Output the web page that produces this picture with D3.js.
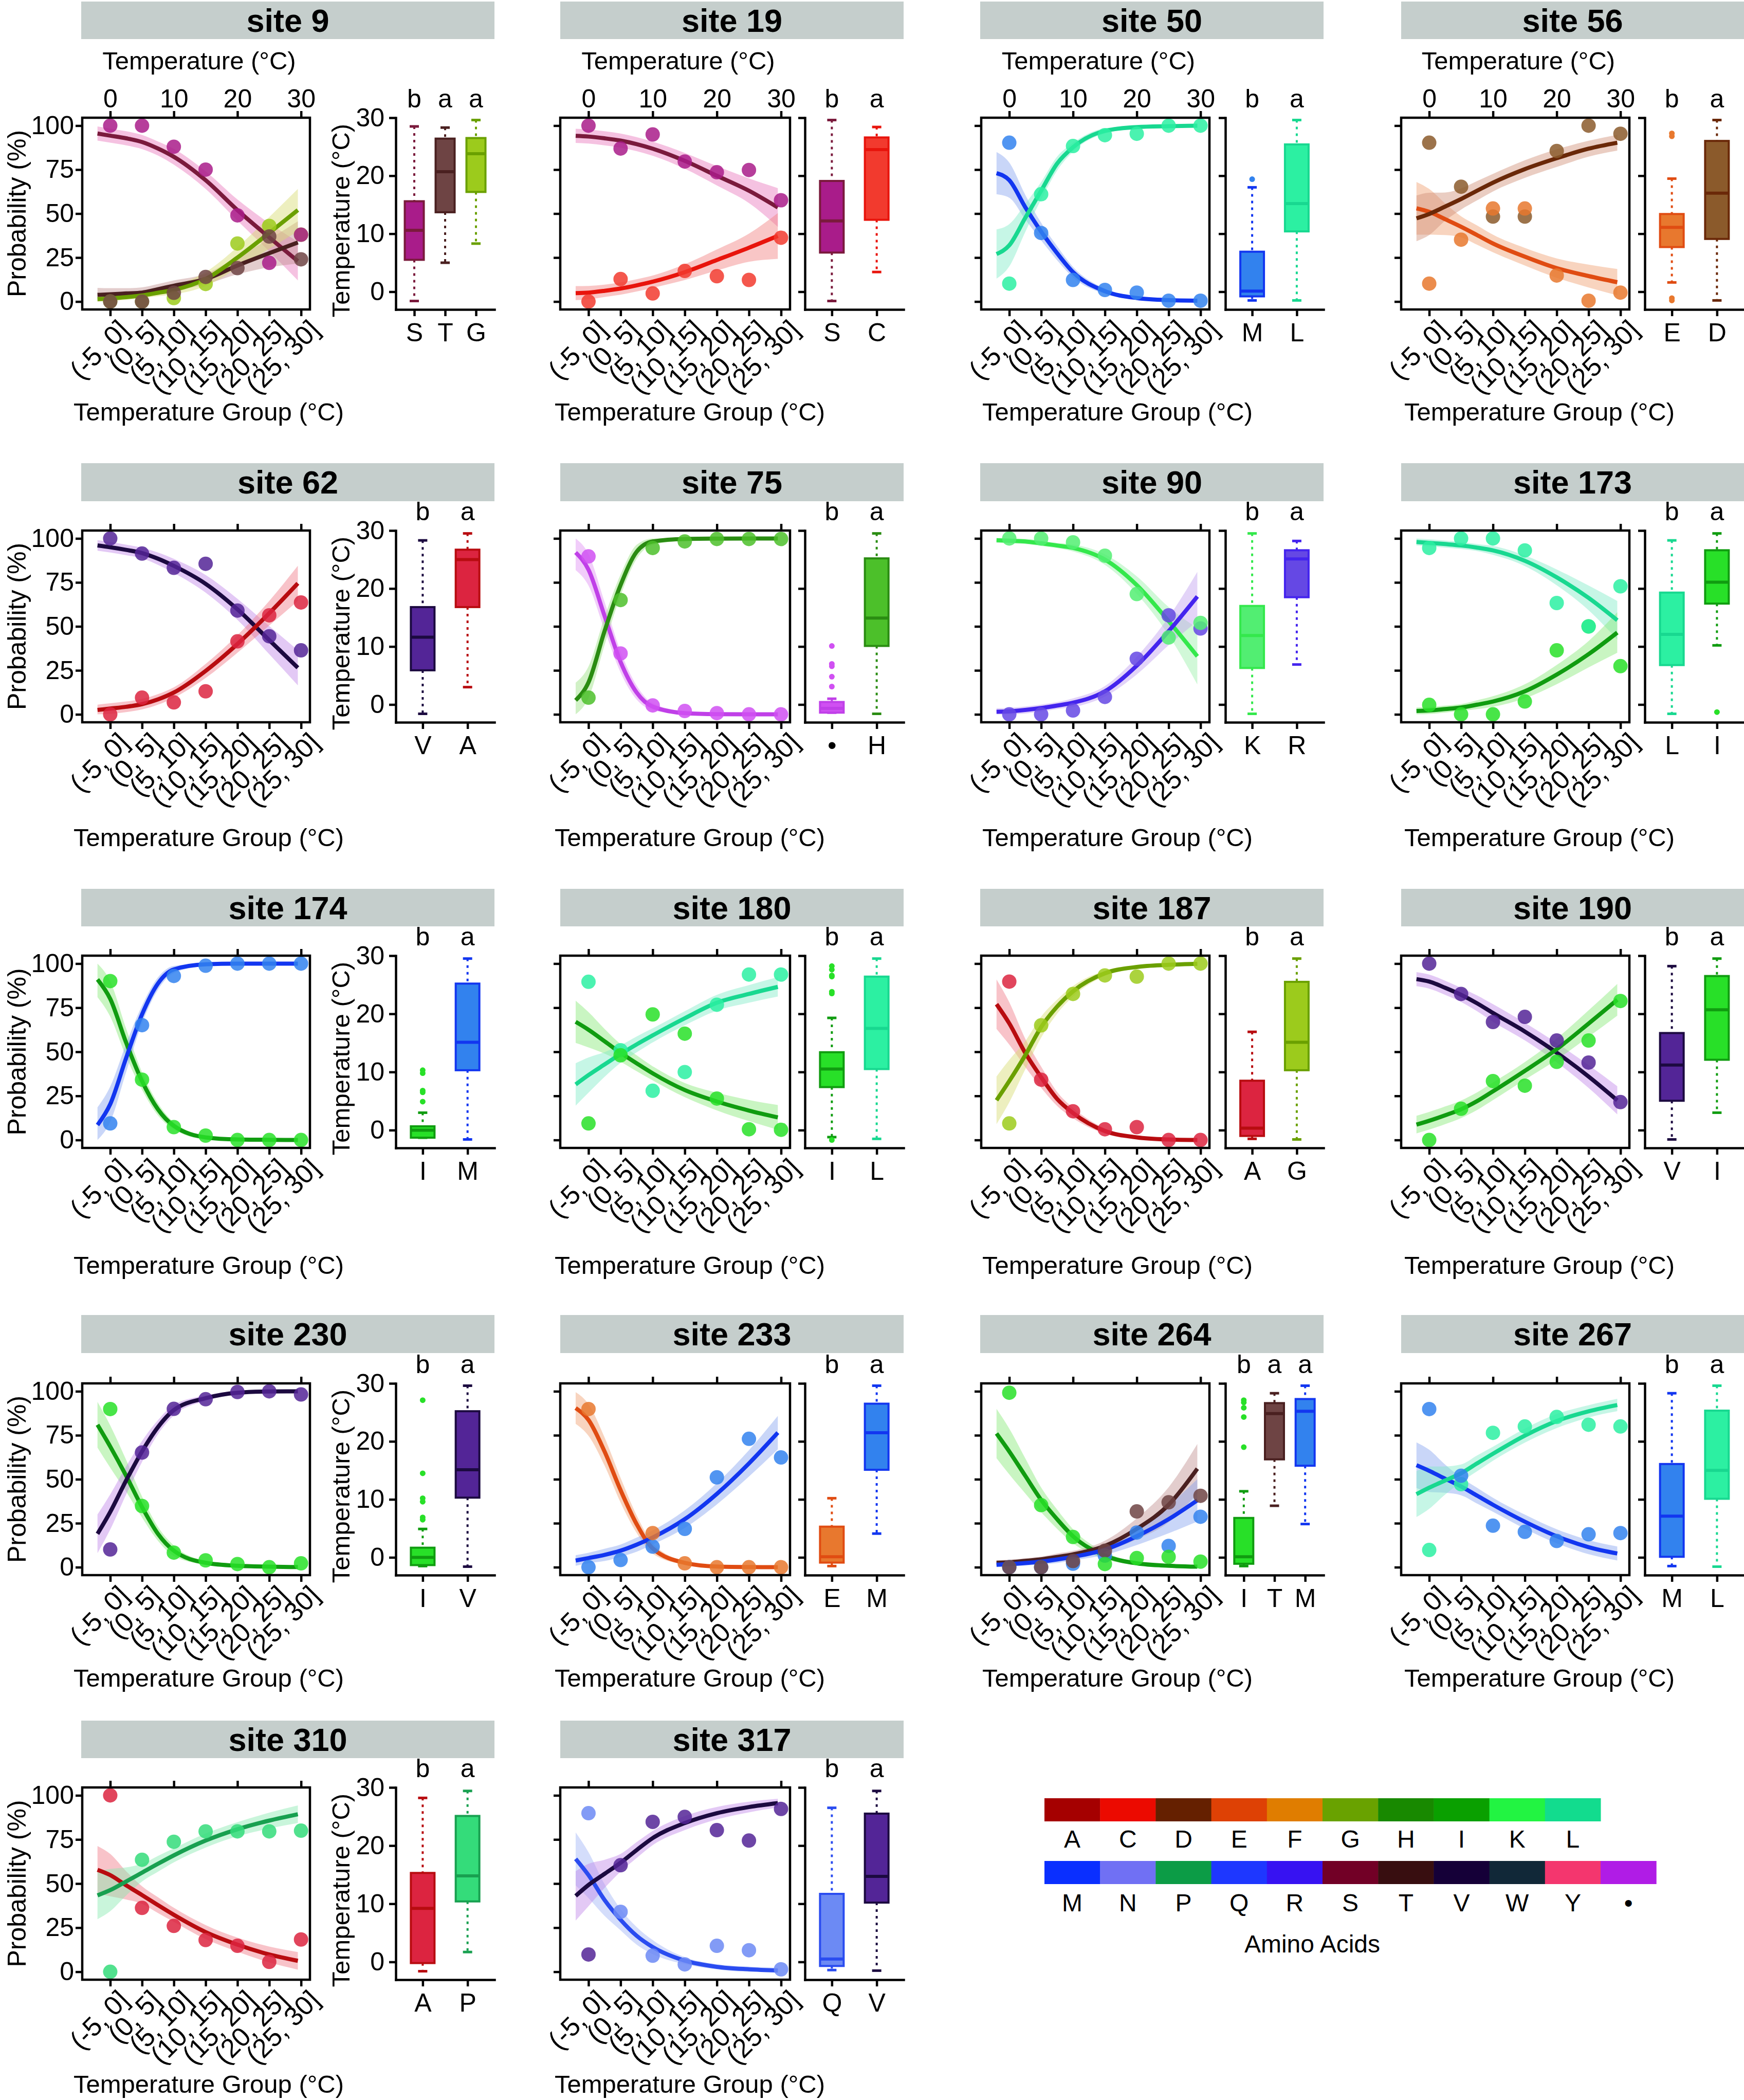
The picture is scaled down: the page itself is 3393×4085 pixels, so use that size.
<!DOCTYPE html>
<html><head><meta charset="utf-8">
<script src="https://cdn.jsdelivr.net/npm/d3@7"></script>
<style>body{margin:0;background:#fff}</style>
</head><body>
<svg id="c" width="3393" height="4085"></svg>
<script>
// ---------------- DATA ----------------
const groupLabels = ["(-5, 0]","(0, 5]","(5, 10]","(10, 15]","(15, 20]","(20, 25]","(25, 30]"];
const groupTemps = [0,5,10,15,20,25,30];
const curveTemps = [-2,0,2.5,5,7.5,10,15,20,25,29.5];
const probTicks = [0,25,50,75,100];
const tempTicks = [0,10,20,30];
const siteNames = ["site 9","site 19","site 50","site 56","site 62","site 75","site 90","site 173","site 174","site 180","site 187","site 190","site 230","site 233","site 264","site 267","site 310","site 317"];

const s9_aa = ["S","T","G"];
const s9_points = [[100,100,88,75,49,22,38],[0,0,5,14,19,37,24],[0,0,2,10,33,43,38]];
const s9_fit = [[95.5,94.3,92.8,90.7,87,82.3,69,52,36.5,23],[3.8,4.1,4.6,5.1,7,9,12.8,20.5,27.5,33.6],[1.4,1.8,2.5,3.5,5,6.6,12.8,25,39,52]];
const s9_band = [[4,4,4,4,4,4.5,5,6,8,11],[4,3.5,3,3,3,3,3,5,8,12],[1.5,1.5,1.5,1.5,2,2.5,4,6,9,12]];
const s9_box = [[-1.6,5.5,10.6,15.6,28.5],[5.0,13.7,20.7,26.4,28.3],[8.3,17.2,23.8,26.5,29.6]];
const s9_outliers = [[],[],[]];
const s9_letters = ["b","a","a"];

const s19_aa = ["S","C"];
const s19_points = [[100,87,95,79.6,73.5,74.8,57.6],[0,12.8,4.6,17.4,14.4,12.3,36.3]];
const s19_fit = [[94.2,93.8,92.8,91.5,89.5,86.9,80,71.5,63,53.5],[4.8,5.1,6.1,7.4,9.2,11.3,16.7,23.6,30.6,37.3]];
const s19_band = [[4,4,4,4,4,4,4.5,5.5,7,11],[4,3.8,3.5,3.5,3.5,3.5,4.5,6,8,13]];
const s19_box = [[-1.6,6.75,12.2,19.1,29.6],[3.4,12.4,24.5,26.6,28.4]];
const s19_outliers = [[],[]];
const s19_letters = ["b","a"];

const s50_aa = ["M","L"];
const s50_points = [[90.3,39,12.3,6.6,5.1,0.5,0.5],[10.2,61,88.4,94.6,95.4,100,100]];
const s50_fit = [[73,69,53.7,39.8,27.5,16.7,5.9,2,0.8,0.5],[27,32,47.5,63,78.4,87.7,97,99.2,99.7,100]];
const s50_band = [[12,10,7,5,4,3,1.5,1,1,1],[14,12,8,5,4,2.5,1.5,1,1,1]];
const s50_box = [[-1.5,-0.8,0.1,6.9,18.0],[-1.5,10.4,15.2,25.4,29.6]];
const s50_outliers = [[19.4],[]];
const s50_letters = ["b","a"];

const s56_aa = ["E","D"];
const s56_points = [[10.2,35.2,52.9,52.9,14.8,0.5,5.1],[90.3,65.3,48.3,48.3,85.6,100,95.4]];
const s56_fit = [[53,51,46.8,42.5,37.8,33,25.5,19,14.5,11],[47.3,49.8,54,58.3,63,67.6,75.3,81.5,86.9,90.3]];
const s56_band = [[15,13,9,6,5.5,5,5,5.5,6.5,7.5],[13,12,8,6,5.5,5,5,5,4.5,4.5]];
const s56_box = [[1.6,7.7,11.1,13.4,19.5],[-1.5,9.1,17.0,26.0,29.6]];
const s56_outliers = [[27.3,26.8,-1.1,-1.5],[]];
const s56_letters = ["b","a"];

const s62_aa = ["V","A"];
const s62_points = [[100,91.4,83.3,85.6,59,44.4,36.4],[0,9.5,6.8,13.1,41.5,56.3,63.6]];
const s62_fit = [[96,95,93.5,91.7,88.5,84.4,74.2,59.7,42.2,26.5],[2.5,3.3,4.3,5.8,8.5,12.4,24.7,40,57.5,74.5]];
const s62_band = [[3,3,3,3,3.5,4,5,6,8,10],[3,3,3,3,3,3,4,5,7,10]];
const s62_box = [[-1.6,5.9,11.6,16.8,28.3],[3.0,16.8,25.0,26.7,29.5]];
const s62_outliers = [[],[]];
const s62_letters = ["b","a"];

const s75_aa = ["•","H"];
const s75_points = [[89.8,34.6,5.1,1.9,0.7,0,0],[9.5,65,94.6,98.3,99.7,99.7,99.7]];
const s75_fit = [[92,82.2,56,29.8,12.4,4.4,0.7,0.1,0,0],[8,18.2,47.3,73.5,92.4,98.3,99.7,99.9,100,100]];
const s75_band = [[10,9,8,6,4,2,1,0.5,0.5,0.5],[10,9,8,6,4,2,1,0.5,0.5,0.5]];
const s75_box = [[-1.4,-1.4,-0.66,0.44,1.0],[-1.6,10.1,14.9,25.2,29.5]];
const s75_outliers = [[10.1,7.0,6.6,4.8,3.1],[]];
const s75_letters = ["b","a"];

const s90_aa = ["K","R"];
const s90_points = [[100,100,97.8,90.2,68.4,43.7,52],[0,0,2.2,9.9,31.6,56.3,48.8]];
const s90_fit = [[99,98.7,98.3,97.2,96,94.6,88,73.5,53,33],[1.5,1.7,2.5,3.6,5,6.6,13.1,27.7,47.3,67]];
const s90_band = [[1.5,1.5,1.5,1.5,1.5,2,3,5,8,16],[2,2,2,2,2,2.5,3,5,8,14]];
const s90_box = [[-1.6,6.3,11.9,17.0,29.5],[6.9,18.5,25.1,26.6,28.2]];
const s90_outliers = [[],[]];
const s90_letters = ["b","a"];

const s173_aa = ["L","I"];
const s173_points = [[94.6,100,100,93.2,63.3,50,72.8],[5.4,0,0,7.3,36.4,50,27.4]];
const s173_fit = [[98,97.5,96.8,96,94.8,93.2,87.3,77.9,66.2,53.5],[1.9,2.2,3,3.9,5.5,7.3,13.1,22.6,34.2,46.5]];
const s173_band = [[2,2,2,2,2,2.5,3,4.5,7,11],[2,2,2,2,2.5,3,4,5.5,7.5,11.5]];
const s173_box = [[-1.6,6.8,12.1,19.3,28.3],[10.2,17.4,21.1,26.6,29.5]];
const s173_outliers = [[],[-1.3]];
const s173_letters = ["b","a"];

const s174_aa = ["I","M"];
const s174_points = [[90.1,34.2,7.3,2.5,0,0,0],[9.4,65.1,93,98.8,100,100,100]];
const s174_fit = [[91,80,55.2,33.4,17.4,8,1.5,0.3,0.1,0],[8.5,20.3,46.5,71.2,88.7,96.7,99.6,100,100,100]];
const s174_band = [[10,10,8,5,3.5,2,1,0.5,0.5,0.5],[10,10,8,5,3.5,2,1,0.5,0.5,0.5]];
const s174_box = [[-1.3,-1.3,0,0.66,3.0],[-1.6,10.3,15.1,25.2,29.5]];
const s174_outliers = [[10.3,9.8,6.8,6.5,4.9],[]];
const s174_letters = ["b","a"];

const s180_aa = ["I","L"];
const s180_points = [[9.4,48,71.2,60.3,23.5,6.1,5.8],[89.7,50.9,27.9,38.5,76.7,93.8,93.8]];
const s180_fit = [[67,62.5,56,49.4,43.5,37.8,28.3,21.8,16.7,12.8],[31.5,36.8,42.8,48.7,54.2,59.3,69,77.8,82.8,86.8]];
const s180_band = [[12,10,7,5,4.5,4,4,5,6,7],[12,10,7,5,4.5,4,4,4.5,5,5.5]];
const s180_box = [[-1.2,7.4,10.5,13.4,19.3],[-1.5,10.5,17.5,26.4,29.5]];
const s180_outliers = [[28.2,27.6,26.6,26.4,23.8,23.5,-1.7],[]];
const s180_letters = ["b","a"];

const s187_aa = ["A","G"];
const s187_points = [[89.8,34.2,16.3,6.1,7.3,0,0],[9.4,65,82.8,93.3,92.6,100,100]];
const s187_fit = [[77,66.1,49.4,35.6,23.3,15.3,5.1,1.5,0.3,0],[22.5,33.4,48,64,75.6,84.3,94.5,98.1,99.3,99.9]];
const s187_band = [[14,12,8,6,4,3,1.5,1,0.5,0.5],[13.5,12,8,6,4,3,1.5,1,0.5,0.5]];
const s187_box = [[-1.5,-1.0,0.35,8.5,16.9],[-1.6,10.3,15.1,25.5,29.5]];
const s187_outliers = [[],[]];
const s187_letters = ["b","a"];

const s190_aa = ["V","I"];
const s190_points = [[100,82.8,66.9,69.8,56.4,43.9,21.5],[0,17.7,33.4,30.8,44.3,56.4,78.8]];
const s190_fit = [[91.2,89.8,86.3,82.3,77.5,72,61.5,49.5,36,22.5],[8.7,10.9,14,17.4,22,27.6,39.2,51.5,66,79.5]];
const s190_band = [[4,4,4,4,4.5,5,5,5.5,6.5,8],[5,5,5,5,5,5,5,6,7.5,9]];
const s190_box = [[-1.6,5.05,11.2,16.7,28.2],[3.0,12.1,20.7,26.5,29.5]];
const s190_outliers = [[],[]];
const s190_letters = ["b","a"];

const s230_aa = ["I","V"];
const s230_points = [[89.9,34.8,8.3,3.9,1.8,0,2.2],[10.1,65.2,90,95.5,99.6,100,98.2]];
const s230_fit = [[81,68.6,52,34.2,19,9.4,2.5,0.8,0.3,0.1],[19,31.4,49.3,65.8,79.6,89.3,96.1,99.2,99.9,100]];
const s230_band = [[13,12,9,6,4,3,1,0.5,0.5,0.5],[11,10,8,6,4,3,1.5,1,0.5,0.5]];
const s230_box = [[-1.5,-1.33,0,1.67,4.9],[-1.6,10.3,15.1,25.2,29.6]];
const s230_outliers = [[27.1,14.5,10.2,9.6,6.9,6.5],[]];
const s230_letters = ["b","a"];

const s233_aa = ["E","M"];
const s233_points = [[89.9,null,19.4,2.2,0,0,0],[0,4.1,11.7,21.8,51.1,73,62.4]];
const s233_fit = [[90.5,83.7,65.8,43.8,24.5,10.7,2.5,0.4,0.1,0],[3.8,5.2,7,9.4,12.8,16.9,27.3,41.7,59,76.5]];
const s233_band = [[9,9,8,7,5,3,1,0.5,0.5,0.5],[3,3,3.5,3.5,4,4,5,6,7.5,9.5]];
const s233_box = [[-1.5,-0.9,0.1,5.3,10.2],[4.1,15.1,21.5,26.5,29.6]];
const s233_outliers = [[],[]];
const s233_letters = ["b","a"];

const s264_aa = ["I","T","M"];
const s264_points = [[99.2,35.3,17.2,1.8,5.2,5.9,3.2],[0,0,3.5,9.4,31.7,36.9,40.6],[0,0,2,6.6,19.7,12.1,28.7]];
const s264_fit = [[76,65.8,52,38.3,27.3,17.6,6.6,2.2,0.8,0.3],[2.5,2.8,3.6,4.5,5.8,7.3,12.1,21.8,35.5,56],[1.4,1.8,2.4,3.2,4.4,5.9,10,17.6,27.3,38]];
const s264_band = [[14,13,10,7,5.5,4,2,1,1,1],[1.5,1.5,1.5,1.5,2,2,3,6,10,14],[1.5,1.5,1.5,1.5,2,2,3,5,8,12]];
const s264_box = [[-1.5,-1.1,0.1,6.8,11.4],[8.9,16.9,24.8,26.6,28.3],[5.75,15.8,25.2,27.3,29.6]];
const s264_outliers = [[27.1,26.7,25.8,24.2,19.0],[],[]];
const s264_letters = ["b","a","a"];

const s267_aa = ["M","L"];
const s267_points = [[89.9,52,23.6,20.1,14.9,18.7,19.4],[9.8,47.2,76.4,80,85.4,81,80]];
const s267_fit = [[58,54.8,50.3,45.9,40.7,35.5,25.9,17.6,11.4,7.8],[41.5,45.2,49.3,53.4,59,64.5,74.8,83.1,88.6,92.2]];
const s267_band = [[13,12,8,5,4.5,4,4,4,4,4],[13,12,8,5,4.5,4,4,4,3.5,3.5]];
const s267_box = [[-1.5,0.1,7.1,16.1,28.3],[-1.6,10.1,15.0,25.3,29.6]];
const s267_outliers = [[],[]];
const s267_letters = ["b","a"];

const s310_aa = ["A","P"];
const s310_points = [[100,36.2,26,18,14.7,5.6,18.3],[0,63.5,73.7,79.6,79.6,79.6,80]];
const s310_fit = [[57.8,54.8,49,43.5,37.8,32.3,22.5,15.4,9.8,6.2],[43.3,46.3,51.2,56.2,61.2,66,74.4,80.8,85.7,89.3]];
const s310_band = [[13.5,12,8,5,4.5,4,4,4,4.5,5],[13.5,12,8,5,4.5,4,4,4,4.5,5]];
const s310_box = [[-1.6,-0.2,9.2,15.3,28.2],[1.7,10.4,14.8,25.1,29.4]];
const s310_outliers = [[],[]];
const s310_letters = ["b","a"];

const s317_aa = ["Q","V"];
const s317_points = [[89.9,34,9.1,4.2,14.7,12.2,1.4],[9.8,60.4,85,87.8,80.3,74.4,92.3]];
const s317_fit = [[64,54.8,40.7,29.5,20.4,14,6.3,2.8,1.4,0.7],[43,49.2,55.5,61.8,69,75.8,84.3,89.9,93.4,95.6]];
const s317_band = [[15,13,9,6,5,4,2,1.5,1.5,1.5],[14,12,8,5,4.5,4,4,3.5,3,2.5]];
const s317_box = [[-1.4,-0.7,0.5,11.7,26.5],[-1.5,10.2,14.7,25.5,29.4]];
const s317_outliers = [[],[]];
const s317_letters = ["b","a"];

const legendRow1 = ["A","C","D","E","F","G","H","I","K","L"];
const legendRow2 = ["M","N","P","Q","R","S","T","V","W","Y","•"];

// ---------------- STYLE / LAYOUT ----------------
const FONT = "'Liberation Sans', Arial, Helvetica, sans-serif";
const LEGEND_COLOR = {A:"#a50000",C:"#ec0a00",D:"#652000",E:"#de4105",F:"#e07d00",G:"#69a200",H:"#188900",I:"#0aa000",K:"#22f442",L:"#12dc8e",
  M:"#0a2fff",N:"#7070f4",P:"#0c9c46",Q:"#1e37ff",R:"#3712f2",S:"#720026",T:"#380e10",V:"#150038",W:"#112838",Y:"#f4366e","•":"#b01ce6"};
const LINE = {S:"#7a1a3c",T:"#4a2020",G:"#6aa000",C:"#e8140c",M:"#1236f0",L:"#18d890",E:"#e04c12",D:"#6a2808",V:"#1c0a40",A:"#b80c10",H:"#2a8c12","•":"#c040e8",K:"#34e84c",R:"#4424ee",I:"#109c10",P:"#18a050",Q:"#2a4cf0"};
const PT = {S:"#a91c8a",T:"#6e4444",G:"#9ccb1c",C:"#f23a2e",M:"#3282ee",L:"#2cf0a2",E:"#e8782e",D:"#8b5a2b",V:"#532597",A:"#dc2440",H:"#4cc02a","•":"#d050f2",K:"#52ee72",R:"#6548e4",I:"#28e028",P:"#34dc7a",Q:"#6c8af4"};
const BAND = {S:"#e878bc",T:"#c09090",G:"#d6dc70",C:"#f28080",M:"#88a4f0",L:"#80ecc8",E:"#f0a070",D:"#d09078",V:"#c088e8",A:"#f07a88",H:"#98e080","•":"#e090f4",K:"#98f0a8",R:"#c0a0f0",I:"#88e878",P:"#88e8b0",Q:"#a0b4f6"};

const COLS = [
  {plotL:160, plotR:603, boxL:770, boxR:962, stripL:158, stripR:962, xTitle:406},
  {plotL:1090, plotR:1537, boxL:1566, boxR:1758, stripL:1090, stripR:1758, xTitle:1342},
  {plotL:1909, plotR:2353, boxL:2384, boxR:2575, stripL:1907, stripR:2575, xTitle:2174},
  {plotL:2726, plotR:3170, boxL:3200, boxR:3393, stripL:2726, stripR:3393, xTitle:2995}];
const ROWS = [
  {stripT:3, stripB:76, plotT:229, plotB:602, xTitle:818},
  {stripT:901, stripB:975, plotT:1032, plotB:1405, xTitle:1646},
  {stripT:1729, stripB:1802, plotT:1859, plotB:2233, xTitle:2478},
  {stripT:2558, stripB:2632, plotT:2691, plotB:3064, xTitle:3281},
  {stripT:3347, stripB:3420, plotT:3477, plotB:3851, xTitle:4071}];
const X_DOMAIN = [-4.4, 31.4];
const Y_DOMAIN = [-4.5, 104.5];
const BOX_DOMAIN = [-3.06, 30];
const AX = 4.5;

const panels = [
  {aa:s9_aa,pts:s9_points,fit:s9_fit,band:s9_band,box:s9_box,out:s9_outliers,sig:s9_letters},
  {aa:s19_aa,pts:s19_points,fit:s19_fit,band:s19_band,box:s19_box,out:s19_outliers,sig:s19_letters},
  {aa:s50_aa,pts:s50_points,fit:s50_fit,band:s50_band,box:s50_box,out:s50_outliers,sig:s50_letters},
  {aa:s56_aa,pts:s56_points,fit:s56_fit,band:s56_band,box:s56_box,out:s56_outliers,sig:s56_letters},
  {aa:s62_aa,pts:s62_points,fit:s62_fit,band:s62_band,box:s62_box,out:s62_outliers,sig:s62_letters},
  {aa:s75_aa,pts:s75_points,fit:s75_fit,band:s75_band,box:s75_box,out:s75_outliers,sig:s75_letters},
  {aa:s90_aa,pts:s90_points,fit:s90_fit,band:s90_band,box:s90_box,out:s90_outliers,sig:s90_letters},
  {aa:s173_aa,pts:s173_points,fit:s173_fit,band:s173_band,box:s173_box,out:s173_outliers,sig:s173_letters},
  {aa:s174_aa,pts:s174_points,fit:s174_fit,band:s174_band,box:s174_box,out:s174_outliers,sig:s174_letters},
  {aa:s180_aa,pts:s180_points,fit:s180_fit,band:s180_band,box:s180_box,out:s180_outliers,sig:s180_letters},
  {aa:s187_aa,pts:s187_points,fit:s187_fit,band:s187_band,box:s187_box,out:s187_outliers,sig:s187_letters},
  {aa:s190_aa,pts:s190_points,fit:s190_fit,band:s190_band,box:s190_box,out:s190_outliers,sig:s190_letters},
  {aa:s230_aa,pts:s230_points,fit:s230_fit,band:s230_band,box:s230_box,out:s230_outliers,sig:s230_letters},
  {aa:s233_aa,pts:s233_points,fit:s233_fit,band:s233_band,box:s233_box,out:s233_outliers,sig:s233_letters},
  {aa:s264_aa,pts:s264_points,fit:s264_fit,band:s264_band,box:s264_box,out:s264_outliers,sig:s264_letters},
  {aa:s267_aa,pts:s267_points,fit:s267_fit,band:s267_band,box:s267_box,out:s267_outliers,sig:s267_letters},
  {aa:s310_aa,pts:s310_points,fit:s310_fit,band:s310_band,box:s310_box,out:s310_outliers,sig:s310_letters},
  {aa:s317_aa,pts:s317_points,fit:s317_fit,band:s317_band,box:s317_box,out:s317_outliers,sig:s317_letters}];
panels.forEach((p,k)=>{ p.site = siteNames[k]; });

// ---------------- DRAW ----------------
const svg = d3.select("#c");
svg.append("rect").attr("width",3393).attr("height",4085).attr("fill","#fff");

function styleAxis(sel, fs){
  sel.attr("font-size", null).attr("font-family", null);
  sel.selectAll("path.domain").attr("stroke","#000").attr("stroke-width",AX).attr("stroke-linecap","square");
  sel.selectAll(".tick line").attr("stroke","#000").attr("stroke-width",AX);
  sel.selectAll(".tick text").attr("fill","#000").style("font-family",FONT).style("font-size",fs+"px");
}

function drawPanel(p, ci, ri){
  const C = COLS[ci], R = ROWS[ri];
  const g = svg.append("g");
  const x = d3.scaleLinear().domain(X_DOMAIN).range([C.plotL, C.plotR]);
  const y = d3.scaleLinear().domain(Y_DOMAIN).range([R.plotB, R.plotT]);
  const idx = d3.range(curveTemps.length);
  const n = p.aa.length;

  // strip
  g.append("rect").attr("x",C.stripL).attr("y",R.stripT).attr("width",C.stripR-C.stripL).attr("height",R.stripB-R.stripT).attr("fill","#c5cecc");
  g.append("text").attr("x",(C.stripL+C.stripR)/2).attr("y",(R.stripT+R.stripB)/2+22)
    .attr("text-anchor","middle").style("font-family",FONT).style("font-size","63px").style("font-weight","bold").text(p.site);

  // confidence bands
  p.aa.forEach((a,i)=>{
    const area = d3.area()
      .x(j=>x(curveTemps[j]))
      .y0(j=>y(Math.max(0, p.fit[i][j]-p.band[i][j])))
      .y1(j=>y(Math.min(100, p.fit[i][j]+p.band[i][j])))
      .curve(d3.curveMonotoneX);
    g.append("path").attr("d",area(idx)).attr("fill",BAND[a]).attr("fill-opacity",0.45);
  });
  // fitted lines
  p.aa.forEach((a,i)=>{
    const line = d3.line().x(j=>x(curveTemps[j])).y(j=>y(p.fit[i][j])).curve(d3.curveMonotoneX);
    g.append("path").attr("d",line(idx)).attr("fill","none").attr("stroke",LINE[a]).attr("stroke-width",8);
  });
  // points
  d3.range(n).reverse().forEach(i=>{
    const a = p.aa[i];
    const data = p.pts[i].map((v,j)=>({t:groupTemps[j], v})).filter(d=>d.v!==null);
    g.selectAll(null).data(data).enter().append("circle")
      .attr("cx",d=>x(d.t)).attr("cy",d=>y(d.v)).attr("r",14)
      .attr("fill",PT[a]).attr("fill-opacity",0.85);
  });
  // frame
  g.append("rect").attr("x",C.plotL).attr("y",R.plotT).attr("width",C.plotR-C.plotL).attr("height",R.plotB-R.plotT)
    .attr("fill","none").attr("stroke","#000").attr("stroke-width",AX);

  // left axis
  const gl = g.append("g").attr("transform",`translate(${C.plotL},0)`)
    .call(d3.axisLeft(y).tickValues(probTicks).tickSize(13).tickPadding(3).tickSizeOuter(0).tickFormat(d=> ci===0 ? d : ""));
  gl.select(".domain").remove(); styleAxis(gl, 50);
  // top axis
  const gt = g.append("g").attr("transform",`translate(0,${R.plotT})`)
    .call(d3.axisTop(x).tickValues(tempTicks).tickSize(13).tickPadding(7).tickSizeOuter(0).tickFormat(d=> ri===0 ? d : ""));
  gt.select(".domain").remove(); styleAxis(gt, 50);
  // bottom axis (groups)
  const gb = g.append("g").attr("transform",`translate(0,${R.plotB})`)
    .call(d3.axisBottom(x).tickValues(groupTemps).tickSize(13).tickSizeOuter(0).tickFormat((d,i)=>groupLabels[i]));
  gb.select(".domain").remove(); styleAxis(gb, 52);
  gb.selectAll(".tick text").attr("x",12).attr("y",16).attr("dy",null)
    .attr("text-anchor","end").attr("dominant-baseline","hanging").attr("transform","rotate(-45,12,16)");

  // titles
  if (ri===0){
    g.append("text").attr("x",(C.plotL+C.plotR)/2+6).attr("y",135).attr("text-anchor","middle")
      .style("font-family",FONT).style("font-size","49px").text("Temperature (°C)");
  }
  g.append("text").attr("x",C.xTitle).attr("y",R.xTitle).attr("text-anchor","middle")
    .style("font-family",FONT).style("font-size","49px").text("Temperature Group (°C)");
  if (ci===0){
    const cy = (R.plotT+R.plotB)/2;
    g.append("text").attr("transform",`translate(50,${cy}) rotate(-90)`).attr("text-anchor","middle")
      .style("font-family",FONT).style("font-size","50px").text("Probability (%)");
    const cy2 = R.plotT+200;
    g.append("text").attr("transform",`translate(680,${cy2}) rotate(-90)`).attr("text-anchor","middle")
      .style("font-family",FONT).style("font-size","49px").text("Temperature (°C)");
  }

  // box panel
  const bx = d3.scalePoint().domain(p.aa).range([C.boxL, C.boxR]).padding(0.6);
  const by = d3.scaleLinear().domain(BOX_DOMAIN).range([R.plotB, R.plotT]);
  const bw = n===3 ? 37 : 46;
  p.aa.forEach((a,i)=>{
    const [lo,q1,med,q3,hi] = p.box[i];
    const cx = bx(a);
    const lc = LINE[a];
    g.append("line").attr("x1",cx).attr("x2",cx).attr("y1",by(hi)).attr("y2",by(q3))
      .attr("stroke",lc).attr("stroke-width",4).attr("stroke-dasharray","5 8");
    g.append("line").attr("x1",cx).attr("x2",cx).attr("y1",by(q1)).attr("y2",by(lo))
      .attr("stroke",lc).attr("stroke-width",4).attr("stroke-dasharray","5 8");
    [lo,hi].forEach(v=>g.append("line").attr("x1",cx-9).attr("x2",cx+9).attr("y1",by(v)).attr("y2",by(v))
      .attr("stroke",lc).attr("stroke-width",5));
    g.append("rect").attr("x",cx-bw/2).attr("y",by(q3)).attr("width",bw).attr("height",Math.max(1,by(q1)-by(q3)))
      .attr("fill",PT[a]).attr("stroke",lc).attr("stroke-width",4);
    g.append("line").attr("x1",cx-bw/2).attr("x2",cx+bw/2).attr("y1",by(med)).attr("y2",by(med))
      .attr("stroke",lc).attr("stroke-width",6);
    g.selectAll(null).data(p.out[i]).enter().append("circle")
      .attr("cx",cx).attr("cy",d=>by(d)).attr("r",5.5).attr("fill",PT[a]);
    g.append("text").attr("x",cx).attr("y",R.plotT-20).attr("text-anchor","middle")
      .style("font-family",FONT).style("font-size","50px").text(p.sig[i]);
  });
  const gby = g.append("g").attr("transform",`translate(${C.boxL},0)`)
    .call(d3.axisLeft(by).tickValues(tempTicks).tickSize(13).tickPadding(9).tickSizeOuter(0).tickFormat(d=> ci===0 ? d : ""));
  styleAxis(gby, 50);
  const gbx = g.append("g").attr("transform",`translate(0,${R.plotB})`)
    .call(d3.axisBottom(bx).tickSize(13).tickPadding(13).tickSizeOuter(0));
  styleAxis(gbx, 50);
}

panels.forEach((p,k)=>drawPanel(p, k%4, Math.floor(k/4)));

// legend
const lg = svg.append("g");
const sw = 108.2, lx0 = 2032;
const lx1 = d3.scaleBand().domain(legendRow1).range([lx0, lx0+sw*legendRow1.length]);
const lx2 = d3.scaleBand().domain(legendRow2).range([lx0, lx0+sw*legendRow2.length]);
[[legendRow1, lx1, 3498, 3594],[legendRow2, lx2, 3620, 3718]].forEach(([row, sc, ty, tb])=>{
  lg.selectAll(null).data(row).enter().append("rect")
    .attr("x",d=>sc(d)).attr("y",ty).attr("width",sc.bandwidth()+0.5).attr("height",45).attr("fill",d=>LEGEND_COLOR[d]);
  lg.selectAll(null).data(row).enter().append("text")
    .attr("x",d=>sc(d)+sc.bandwidth()/2).attr("y",tb).attr("text-anchor","middle")
    .style("font-family",FONT).style("font-size","48px").text(d=>d);
});
lg.append("text").attr("x",2553).attr("y",3798).attr("text-anchor","middle")
  .style("font-family",FONT).style("font-size","48px").text("Amino Acids");
</script>
</body></html>
